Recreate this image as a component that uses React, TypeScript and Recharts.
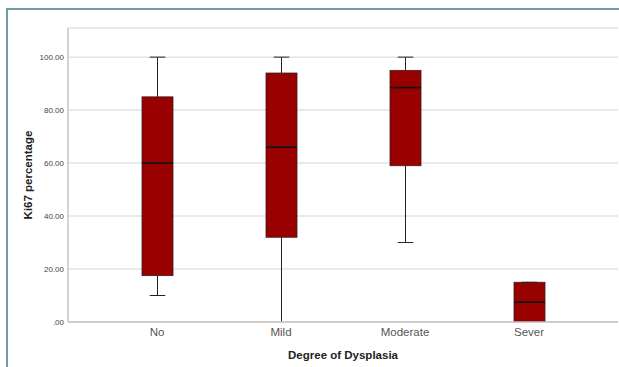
import { ComposedChart, Bar, XAxis, YAxis, CartesianGrid } from "recharts";

const categories = ["No", "Mild", "Moderate", "Sever"];
const minValues = [10, 0, 30, 0];
const q1Values = [17.5, 32, 59, 0];
const medianValues = [60, 66, 88.5, 7.5];
const q3Values = [85, 94, 95, 15];
const maxValues = [100, 100, 100, 15];
const yTicks = [0, 20, 40, 60, 80, 100];

const data = categories.map((name, i) => ({
  name,
  min: minValues[i],
  q1: q1Values[i],
  median: medianValues[i],
  q3: q3Values[i],
  max: maxValues[i],
  base: minValues[i],
  lower: q1Values[i] - minValues[i],
  box: q3Values[i] - q1Values[i],
  upper: maxValues[i] - q3Values[i],
}));

const font = "'Liberation Sans', Arial, sans-serif";

function Empty() {
  return <g />;
}

function LowerWhisker(props: any) {
  const { x, y, width, height, payload } = props;
  const cx = x + width / 2;
  const capW = width / 2;
  return (
    <g>
      <line x1={cx} x2={cx} y1={y} y2={y + height} stroke="#222" strokeWidth={1} />
      {payload.min > 0 && (
        <line x1={cx - capW / 2} x2={cx + capW / 2} y1={y + height} y2={y + height} stroke="#222" strokeWidth={1} />
      )}
    </g>
  );
}

function UpperWhisker(props: any) {
  const { x, y, width, height } = props;
  const cx = x + width / 2;
  const capW = width / 2;
  return (
    <g>
      <line x1={cx} x2={cx} y1={y} y2={y + height} stroke="#222" strokeWidth={1} />
      <line x1={cx - capW / 2} x2={cx + capW / 2} y1={y} y2={y} stroke="#222" strokeWidth={1} />
    </g>
  );
}

function BoxShape(props: any) {
  const { x, y, width, height, payload } = props;
  const k = height / (payload.q3 - payload.q1);
  const my = y + (payload.q3 - payload.median) * k;
  return (
    <g>
      <rect x={x} y={y} width={width} height={height} fill="#990000" stroke="#3a1a1a" strokeWidth={0.8} />
      <line x1={x} x2={x + width} y1={my} y2={my} stroke="#111" strokeWidth={1.6} />
    </g>
  );
}

function YLabel(props: any) {
  const { viewBox } = props;
  const cx = viewBox.x + 20;
  const cy = viewBox.y + viewBox.height / 2;
  return (
    <text
      x={cx}
      y={cy}
      transform={`rotate(-90 ${cx} ${cy})`}
      textAnchor="middle"
      dominantBaseline="central"
      fontFamily={font}
      fontWeight="bold"
      fontSize={11.5}
      fill="#222"
    >
      Ki67 percentage
    </text>
  );
}

function XLabel(props: any) {
  const { viewBox } = props;
  const cx = viewBox.x + viewBox.width / 2;
  return (
    <text
      x={cx}
      y={355}
      textAnchor="middle"
      dominantBaseline="central"
      fontFamily={font}
      fontWeight="bold"
      fontSize={11.5}
      fill="#222"
    >
      Degree of Dysplasia
    </text>
  );
}

export default function App() {
  return (
    <div style={{ position: "absolute", left: 0, top: 0, width: 619, height: 367, background: "#fff" }}>
      <div
        style={{
          position: "absolute",
          left: 6,
          top: 8,
          width: 613,
          height: 359,
          boxSizing: "border-box",
          borderLeft: "2px solid #6e9c9c",
          borderTop: "2px solid #6e9c9c",
        }}
      />
      <div style={{ position: "absolute", left: 0, top: 0 }}>
        <ComposedChart
          width={619}
          height={367}
          data={data}
          margin={{ top: 28, right: 1, bottom: 0, left: 8 }}
        >
          <CartesianGrid vertical={false} stroke="#e2e2e2" strokeWidth={1.5} />
          <XAxis
            dataKey="name"
            type="category"
            padding={{ left: 27, right: 27 }}
            height={45}
            tickLine={false}
            tickSize={0}
            tickMargin={6}
            axisLine={{ stroke: "#c4c4c4", strokeWidth: 1.5 }}
            tick={{ fontFamily: font, fontSize: 11.5, fill: "#555" }}
            label={<XLabel />}
          />
          <YAxis
            width={60}
            domain={[0, 111]}
            ticks={yTicks}
            allowDataOverflow
            tickLine={false}
            tickSize={0}
            tickMargin={4}
            axisLine={{ stroke: "#c4c4c4", strokeWidth: 1.5 }}
            tick={{ fontFamily: font, fontSize: 8, fill: "#444" }}
            tickFormatter={(v: number) => (v === 0 ? ".00" : v.toFixed(2))}
            label={<YLabel />}
          />
          <Bar dataKey="base" stackId="a" barSize={31} shape={<Empty />} isAnimationActive={false} />
          <Bar dataKey="lower" stackId="a" barSize={31} shape={<LowerWhisker />} isAnimationActive={false} />
          <Bar dataKey="box" stackId="a" barSize={31} shape={<BoxShape />} isAnimationActive={false} />
          <Bar dataKey="upper" stackId="a" barSize={31} shape={<UpperWhisker />} isAnimationActive={false} />
        </ComposedChart>
      </div>
    </div>
  );
}
